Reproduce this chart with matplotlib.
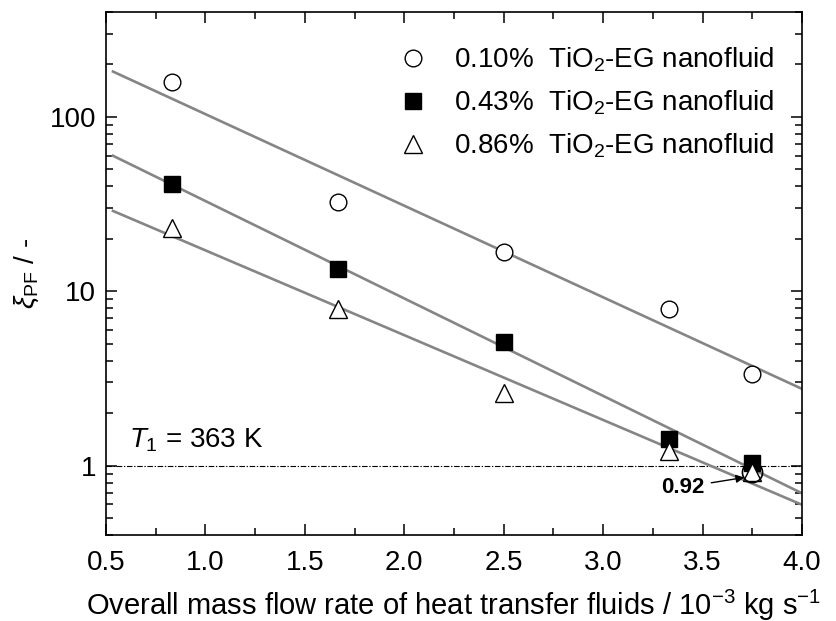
import numpy as np
import matplotlib
matplotlib.use("Agg")
import matplotlib.pyplot as plt
from matplotlib.ticker import FixedLocator, MultipleLocator, LogLocator, NullFormatter, FuncFormatter

plt.rcParams["font.family"] = ["Liberation Sans", "DejaVu Sans"]
plt.rcParams["mathtext.fontset"] = "custom"
plt.rcParams["mathtext.rm"] = "Liberation Sans"
plt.rcParams["mathtext.it"] = "Liberation Sans:italic"
plt.rcParams["mathtext.bf"] = "Liberation Sans:bold"

# ── Data ──────────────────────────────────────────────────────────────────────
flow = [0.833, 1.667, 2.5, 3.333, 3.75]
xi_010 = [158, 32.6, 16.8, 7.9, 3.35]
xi_043 = [41.3, 13.5, 5.15, 1.43, 1.04]
xi_086 = [23.2, 7.9, 2.6, 1.22, 0.92]
labels = ["0.10%  TiO$_2$-EG nanofluid",
          "0.43%  TiO$_2$-EG nanofluid",
          "0.86%  TiO$_2$-EG nanofluid"]
fit_range = [0.535, 4.0]
highlight_x, highlight_y = 3.75, 0.92

FS = 20

fig = plt.figure(figsize=(8.36, 6.21), dpi=100)
ax = fig.add_axes([0.1268, 0.1385, 0.8325, 0.8422])

# fitted exponential trend lines (log-linear least squares)
xf = np.array(fit_range)
for ys in (xi_010, xi_043, xi_086):
    b, a = np.polyfit(flow, np.log10(ys), 1)
    ax.plot(xf, 10 ** (a + b * xf), color="#858585", lw=1.9, zorder=2)

ax.axhline(1, color="black", lw=0.8, ls=(0, (5, 1.5, 1.2, 1.5)), zorder=1)

ax.plot(flow, xi_010, ls="none", marker="o", ms=12, mfc="white", mec="black",
        mew=1.0, label=labels[0], zorder=3)
ax.plot(flow, xi_043, ls="none", marker="s", ms=11, mfc="black", mec="black",
        mew=1.0, label=labels[1], zorder=4)
ax.plot(flow, xi_086, ls="none", marker="^", ms=13, mfc="white", mec="black",
        mew=1.0, label=labels[2], zorder=5)
ax.plot([highlight_x], [highlight_y], ls="none", marker="o", ms=14.5, mfc="none",
        mec="black", mew=1.2, zorder=6)

ax.annotate(f"{highlight_y:.2f}", xy=(3.71, 0.855), xytext=(3.40, 0.75),
            ha="center", va="center", fontsize=16, fontweight="bold",
            arrowprops=dict(arrowstyle="-|>", color="black", lw=1.0,
                            mutation_scale=12, shrinkA=3, shrinkB=0))

ax.text(0.615, 1.27, r"$\mathit{T}_{\mathrm{1}}$ = 363 K", fontsize=FS,
        ha="left", va="baseline")

ax.set_yscale("log")
ax.set_xlim(0.5, 4.0)
ax.set_ylim(0.4, 400)
ax.xaxis.set_major_locator(MultipleLocator(0.5))
ax.xaxis.set_minor_locator(MultipleLocator(0.25))
ax.xaxis.set_major_formatter(FuncFormatter(lambda v, p: f"{v:.1f}"))
ax.yaxis.set_major_locator(FixedLocator([1, 10, 100]))
ax.yaxis.set_minor_locator(LogLocator(base=10, subs=np.arange(2, 10)))
ax.yaxis.set_major_formatter(FuncFormatter(lambda v, p: f"{v:g}"))
ax.yaxis.set_minor_formatter(NullFormatter())

ax.tick_params(which="both", direction="in", top=True, right=True,
               labelsize=FS, width=1.1)
ax.tick_params(axis="x", pad=11)
ax.tick_params(axis="y", pad=7)
ax.tick_params(which="major", length=8)
ax.tick_params(which="minor", length=5)
for s in ax.spines.values():
    s.set_linewidth(1.2)

ax.set_xlabel(r"Overall mass flow rate of heat transfer fluids / 10$^{-3}$ kg s$^{-1}$",
              fontsize=21, labelpad=8)
ax.set_ylabel(r"$\xi_{\mathrm{PF}}$ / -", fontsize=FS, labelpad=6)

ax.legend(loc="upper right", bbox_to_anchor=(0.985, 0.968), frameon=False,
          fontsize=FS, handletextpad=1.0, labelspacing=0.52, borderaxespad=0.2,
          handlelength=1.0)

fig.savefig("out.png", dpi=100)
